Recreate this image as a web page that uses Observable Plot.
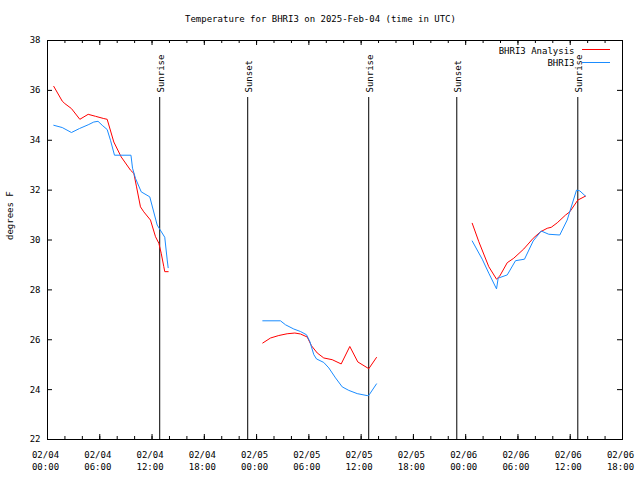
<!DOCTYPE html>
<html><head><meta charset="utf-8">
<script src="https://cdn.jsdelivr.net/npm/d3@7"></script>
<script src="https://cdn.jsdelivr.net/npm/@observablehq/plot@0.6"></script>
<style>body{margin:0;background:#fff}</style>
</head><body><div id="chart"></div>
<script>
const title = "Temperature for BHRI3 on 2025-Feb-04 (time in UTC)";
const yLabel = "degrees F";
const seriesNames = ["BHRI3 Analysis", "BHRI3"];
const seriesColors = ["#ff0000", "#1a8cff"];
// hours after 2025-02-04 00:00 UTC; null marks a gap in the record
const analysisHours = [0.72,1.69,1.99,2.75,3.71,4.67,5.51,6.46,6.85,7.61,8.46,9.53,9.91,10.22,10.67,11.05,11.82,12.40,12.78,13.05,13.35,13.46,13.85, null,
  24.71,25.60,26.55,27.51,28.39,29.04,29.81,30.30,30.96,31.71,32.68,33.71,34.70,35.62,36.88,37.76, null,
  48.75,49.51,50.65,51.54,51.92,52.77,53.52,54.67,55.75,56.59,57.36,57.82,58.51,59.46,59.95,60.87,61.75];
const analysisTemps = [36.16,35.57,35.47,35.27,34.84,35.04,34.96,34.87,34.84,33.93,33.33,32.80,32.67,32.13,31.33,31.13,30.80,30.13,29.87,29.47,28.93,28.73,28.73, null,
  25.87,26.07,26.17,26.24,26.27,26.23,26.11,25.76,25.47,25.27,25.20,25.03,25.73,25.11,24.84,25.29, null,
  30.67,29.93,28.93,28.43,28.56,29.09,29.27,29.64,30.07,30.33,30.47,30.51,30.69,31.00,31.13,31.60,31.76];
const obsHours = [0.72,1.69,2.75,3.67,4.67,5.31,5.80,6.28,6.85,7.23,7.69,9.58,9.76,10.10,10.76,11.74,12.59,12.89,13.46,13.74,13.85, null,
  24.71,26.74,27.32,28.27,29.04,29.73,30.11,30.57,30.88,31.71,32.29,33.06,33.83,34.58,35.55,36.70,36.88,37.76, null,
  48.75,49.90,50.65,51.54,51.73,52.77,53.72,54.75,55.75,56.67,57.54,58.80,59.65,60.72,61.10,61.75];
const obsTemps = [34.60,34.51,34.31,34.47,34.62,34.73,34.76,34.60,34.43,34.00,33.40,33.40,32.88,32.47,31.93,31.73,30.60,30.43,30.11,29.20,28.89, null,
  26.76,26.76,26.60,26.43,26.33,26.20,25.93,25.40,25.23,25.09,24.87,24.47,24.11,23.97,23.84,23.76,23.77,24.23, null,
  29.96,29.23,28.67,28.04,28.47,28.60,29.17,29.23,29.96,30.36,30.23,30.20,30.80,32.00,31.97,31.76];
const sunEventHours = [12.88, 22.98, 36.87, 46.98, 60.87];
const sunEventNames = ["Sunrise", "Sunset", "Sunrise", "Sunset", "Sunrise"];
const yTicks = [22, 24, 26, 28, 30, 32, 34, 36, 38];
const xDomainHours = [0, 66];
const xMajorStepHours = 6;
const xMinorStepHours = 2;

const W = 640, H = 480, mL = 47, mR = 18, mT = 40, mB = 41;
const fw = W - mL - mR, fh = H - mT - mB;
const base = Date.UTC(2025, 1, 4);
const toDate = h => (h == null ? undefined : new Date(base + h * 3600e3));
const rows = (hs, ts) => hs.map((h, i) => ({time: toDate(h), temp: ts[i] == null ? undefined : ts[i]}));
const analysis = rows(analysisHours, analysisTemps);
const obs = rows(obsHours, obsTemps);
const sun = sunEventHours.map((h, i) => ({time: toDate(h), name: sunEventNames[i]}));
const majorX = d3.range(xDomainHours[0], xDomainHours[1] + 0.01, xMajorStepHours).map(toDate);
const minorX = d3.range(xDomainHours[0], xDomainHours[1] + 0.01, xMinorStepHours).map(toDate);

const plot = Plot.plot({
  width: W, height: H, marginLeft: mL, marginRight: mR, marginTop: mT, marginBottom: mB,
  style: "font-family:'DejaVu Sans Mono',monospace;font-size:9px;background:white;color:black;",
  x: {type: "utc", domain: xDomainHours.map(toDate)},
  y: {domain: [yTicks[0], yTicks[yTicks.length - 1]]},
  marks: [
    // inward gnuplot-style ticks on all four sides
    Plot.ruleX(minorX, {x: d => d, insetTop: fh - 3}),
    Plot.ruleX(minorX, {x: d => d, insetBottom: fh - 3}),
    Plot.ruleX(majorX, {x: d => d, insetTop: fh - 5}),
    Plot.ruleX(majorX, {x: d => d, insetBottom: fh - 5}),
    Plot.ruleY(yTicks, {y: d => d, insetRight: fw - 5}),
    Plot.ruleY(yTicks, {y: d => d, insetLeft: fw - 5}),
    Plot.axisX({anchor: "bottom", ticks: majorX, tickSize: 0, tickPadding: 10, lineHeight: 1.35, dx: -2,
      tickFormat: d3.utcFormat("%m/%d\n%H:%M"), label: null}),
    Plot.axisY({anchor: "left", ticks: yTicks, tickSize: 0, tickPadding: 7, label: null}),
    Plot.frame({stroke: "black"}),
    // sunrise / sunset markers
    Plot.ruleX(sun, {x: "time", insetTop: 57, stroke: "black"}),
    Plot.text(sun, {x: "time", text: "name", frameAnchor: "top", lineAnchor: "middle", rotate: -90, textAnchor: "start", dy: 52, dx: 1}),
    // data
    Plot.line(analysis, {x: "time", y: "temp", stroke: seriesColors[0], strokeWidth: 1}),
    Plot.line(obs, {x: "time", y: "temp", stroke: seriesColors[1], strokeWidth: 1}),
    // title, y label, legend text
    Plot.text([title], {frameAnchor: "top", lineAnchor: "middle", dy: -21, dx: W / 2 - (mL + fw / 2)}),
    Plot.text([yLabel], {frameAnchor: "left", rotate: -90, dx: -37}),
    Plot.text([seriesNames[0]], {frameAnchor: "top-right", lineAnchor: "middle", textAnchor: "end", dx: -48, dy: 10.5}),
    Plot.text([seriesNames[1]], {frameAnchor: "top-right", lineAnchor: "middle", textAnchor: "end", dx: -48, dy: 23})
  ]
});

// legend sample lines
const svg = d3.select(plot);
seriesColors.forEach((c, i) => {
  svg.append("line")
    .attr("x1", W - mR - 40).attr("x2", W - mR - 12)
    .attr("y1", mT + 9.5 + i * 13).attr("y2", mT + 9.5 + i * 13)
    .attr("stroke", c).attr("stroke-width", 1);
});
document.getElementById("chart").appendChild(plot);
</script>
</body></html>
